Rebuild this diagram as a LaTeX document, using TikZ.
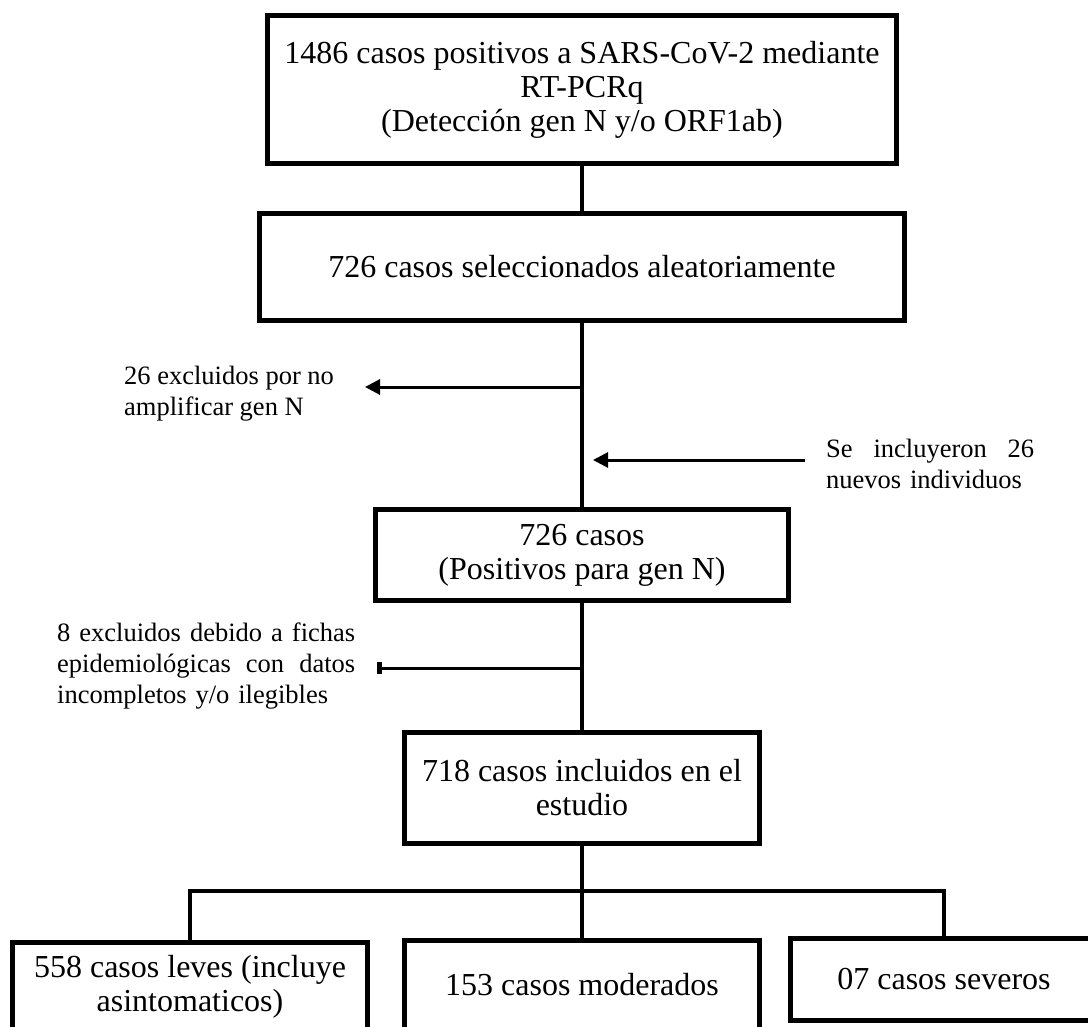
\documentclass[tikz,border=0pt]{standalone}
\usepackage{fontspec}
\setmainfont{Liberation Serif}
\usetikzlibrary{arrows.meta}

\begin{document}
\begin{tikzpicture}[x=1pt,y=-1pt,
    main node/.style={draw,rectangle,line width=5pt,inner sep=0pt,align=center,font=\fontsize{32}{34}\selectfont},
    side node/.style={anchor=west,inner sep=0pt,align=left,font=\fontsize{26.5}{31}\selectfont},
    link/.style={line width=4pt},
    side arrow/.style={line width=3pt,-{Triangle[length=15pt,width=15pt]}},
    bar arrow/.style={line width=3pt,-{Rectangle[length=5pt,width=12pt]}}]
            \useasboundingbox (0,0) rectangle (1088,1027);
            \clip (0,0) rectangle (1088,1027);

            \node[main node,minimum width=629pt,minimum height=148pt] at (582,89.5) (pcr) {1486 casos positivos a SARS-CoV-2 mediante\\RT-PCRq\\(Detección gen N y/o ORF1ab)};
            \node[main node,minimum width=645pt,minimum height=107pt] at (582,267) (sel) {726 casos seleccionados aleatoriamente};
            \node[main node,minimum width=413pt,minimum height=91pt] at (582,555) (pos) {726 casos\\(Positivos para gen N)};
            \node[main node,minimum width=355pt,minimum height=111pt] at (582,788) (incl) {718 casos incluidos en el\\estudio};
            \node[main node,minimum width=355pt,minimum height=89pt] at (190,987) (leves) {558 casos leves (incluye\\asintomaticos)};
            \node[main node,minimum width=355pt,minimum height=89pt] at (582,985) (mod) {153 casos moderados};
            \node[main node,minimum width=307pt,minimum height=82pt] at (944,979.5) (sev) {07 casos severos};

            \node[side node] at (124,394) (exc1) {26 excluidos por no\\amplificar gen N};
            \node[side node,text width=208pt] at (826,464) (inc) {Se\hfill incluyeron\hfill 26\\nuevos individuos};
            \node[side node,text width=298pt] at (57,666) (exc2) {8\hfill excluidos\hfill debido\hfill a\hfill fichas\\epidemiológicas\hfill con\hfill datos\\incompletos y/o ilegibles};

            \coordinate (exc1tip) at (365,387);
            \coordinate (incstart) at (805,460);
            \coordinate (inctip) at (593,460);
            \coordinate (exc2tip) at (377,668);
            \coordinate (split) at (582,891);

            \draw[link] (pcr) -- (sel);
            \draw[link] (sel) -- (pos);
            \draw[link] (pos) -- (incl);
            \draw[link] (incl) -- (split);
            \draw[link] (split) -| (leves);
            \draw[link] (split) -- (mod);
            \draw[link] (split) -| (sev);

            \draw[side arrow] (sel.south |- exc1tip) -- (exc1tip);
            \draw[side arrow] (incstart) -- (inctip);
            \draw[bar arrow] (pos.south |- exc2tip) -- (exc2tip);
\end{tikzpicture}
\end{document}
